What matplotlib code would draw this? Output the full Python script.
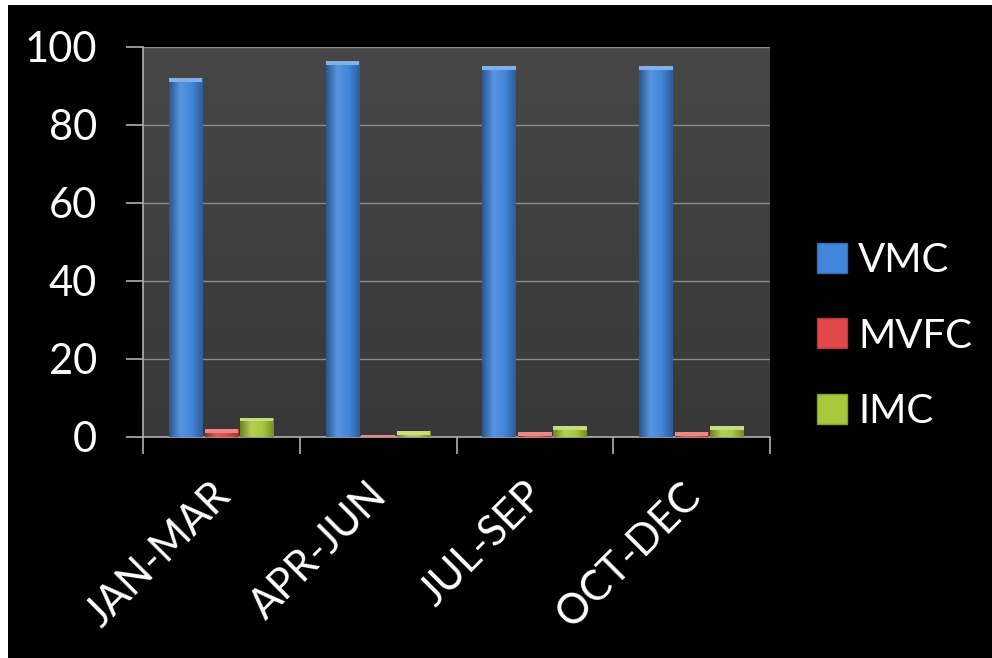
import matplotlib.pyplot as plt
import numpy as np
from matplotlib.colors import LinearSegmentedColormap, to_rgb
from matplotlib.lines import Line2D
from matplotlib.patches import Rectangle

plt.rcParams["font.family"] = ["Lato", "DejaVu Sans"]

quarters = ["JAN-MAR", "APR-JUN", "JUL-SEP", "OCT-DEC"]
vmc = [92, 96.5, 95, 95]
mvfc = [2, 0.6, 1.2, 1.2]
imc = [5, 1.5, 2.7, 2.7]

series = [("VMC", vmc, "#4286dc"), ("MVFC", mvfc, "#e2474a"), ("IMC", imc, "#a9c93c")]


def shade(color, f):
    c = np.array(to_rgb(color))
    if f >= 0:
        return tuple(c + (1 - c) * f)
    return tuple(c * (1 + f))


def gradient_bars(ax, bars, color):
    """Fill each bar with a horizontal cylinder-like gradient."""
    cmap = LinearSegmentedColormap.from_list(
        "g", [shade(color, -0.35), shade(color, 0.12), color, shade(color, -0.3)]
    )
    grad = np.linspace(0, 1, 64).reshape(1, -1)
    for b in bars:
        x, y = b.get_x(), b.get_y()
        w, h = b.get_width(), b.get_height()
        im = ax.imshow(grad, cmap=cmap, aspect="auto", extent=(x, x + w, y, y + h),
                       zorder=3, interpolation="bicubic")
        im.set_clip_path(b)
        # lighter cap along the top edge
        cap = min(1.0, h)
        ax.add_patch(Rectangle((x, y + h - cap), w, cap, color=shade(color, 0.35),
                               lw=0, zorder=4))


fig = plt.figure(figsize=(9.92, 6.58), dpi=100)
fig.patch.set_facecolor("black")
# thin white margin along the top and left edges
fig.patches.append(Rectangle((0, 0), 8 / 992, 1, transform=fig.transFigure,
                             facecolor="white", edgecolor="none"))
fig.patches.append(Rectangle((0, 1 - 5 / 658), 1, 5 / 658, transform=fig.transFigure,
                             facecolor="white", edgecolor="none"))

ax = fig.add_axes([143 / 992, 1 - 437 / 658, (770 - 143) / 992, (437 - 47) / 658])
ax.set_facecolor("#3d3d3d")
# subtle vertical shading of the plot area
bg = np.linspace(0, 1, 64).reshape(-1, 1)
bg_cmap = LinearSegmentedColormap.from_list("bg", ["#474747", "#383838"])
ax.imshow(bg, cmap=bg_cmap, aspect="auto", extent=(-0.5, 3.5, 0, 100), zorder=0)

x = np.arange(len(quarters))
width = 0.215
offsets = [-0.228, 0.0, 0.225]
for (name, vals, color), off in zip(series, offsets):
    bars = ax.bar(x + off, vals, width, color=color, zorder=2, label=name)
    gradient_bars(ax, bars, color)

ax.set_xlim(-0.5, 3.5)
ax.set_ylim(0, 100)
ax.set_yticks(range(0, 101, 20))
ax.yaxis.grid(True, color="#8a8a8a", lw=1)
ax.set_axisbelow(True)

ax.set_xticks(np.arange(-0.5, 4, 1))
ax.set_xticklabels([])
ax.set_xticks(x - 0.07, minor=True)
ax.set_xticklabels(quarters, minor=True, rotation=45, ha="right",
                   rotation_mode="anchor", fontsize=30, color="white")
ax.tick_params(axis="x", which="minor", length=0, pad=28)
ax.tick_params(axis="x", which="major", length=12, color="#b0b0b0", width=1.2)
ax.tick_params(axis="y", length=12, color="#b0b0b0", width=1.2, labelsize=30,
               labelcolor="white", pad=21)

for side in ("top", "right"):
    ax.spines[side].set_visible(False)
for side in ("left", "bottom"):
    ax.spines[side].set_color("#b0b0b0")
    ax.spines[side].set_linewidth(1.2)

handles = [Line2D([], [], marker="s", ls="none", markersize=21, markerfacecolor=c,
                  markeredgecolor=shade(c, -0.2), label=n) for n, _, c in series]
leg = fig.legend(handles=handles, loc="center left", bbox_to_anchor=(818 / 992, 1 - 336 / 658),
                 frameon=False, fontsize=29, labelspacing=0.95, handletextpad=0.3,
                 handlelength=0.7, borderaxespad=0, borderpad=0)
for t in leg.get_texts():
    t.set_color("white")

fig.savefig("out.png", dpi=100, facecolor=fig.get_facecolor())
